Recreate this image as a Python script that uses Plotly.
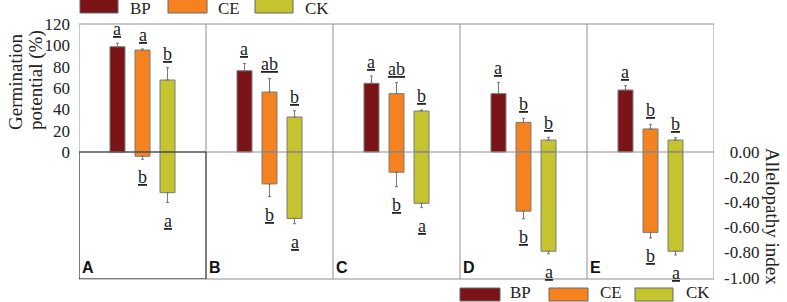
import plotly.graph_objects as go

panels = ["A", "B", "C", "D", "E"]
groups = ["BP", "CE", "CK"]
colors = {"BP": "#7b1416", "CE": "#f5821f", "CK": "#c3c42e"}

# Germination potential (%) and upper error
gp_bp = [98.7, 76.2, 64.4, 54.7, 58.1]
gp_bp_err = [3.3, 6.8, 6.8, 10.6, 4.1]
gp_ce = [95.6, 56.2, 54.7, 27.8, 21.6]
gp_ce_err = [1.0, 12.8, 10.3, 3.8, 4.4]
gp_ck = [67.5, 32.8, 38.4, 11.2, 11.2]
gp_ck_err = [11.5, 5.9, 1.0, 2.6, 2.2]

# Allelopathy index and lower error
ai_ce = [-0.034, -0.254, -0.161, -0.471, -0.640]
ai_ce_err = [0.024, 0.101, 0.115, 0.061, 0.045]
ai_ck = [-0.324, -0.529, -0.408, -0.790, -0.790]
ai_ck_err = [0.078, 0.042, 0.035, 0.020, 0.030]

# significance letters
gp_letters = {"BP": ["a", "a", "a", "a", "a"],
              "CE": ["a", "ab", "ab", "b", "b"],
              "CK": ["b", "b", "b", "b", "b"]}
ai_letters = {"CE": ["b", "b", "b", "b", "b"],
              "CK": ["a", "a", "a", "a", "a"]}

gp_ticks = [0, 20, 40, 60, 80, 100, 120]
ai_ticks = [0.0, -0.2, -0.4, -0.6, -0.8, -1.0]

offsets = {"BP": -0.197, "CE": 0.0, "CK": 0.197}
BAR_W = 0.118
SERIF = "Liberation Serif, Times New Roman, serif"
TXT = "#222222"
GRID = "#8f8f8f"

gp = {"BP": (gp_bp, gp_bp_err), "CE": (gp_ce, gp_ce_err), "CK": (gp_ck, gp_ck_err)}
ai = {"CE": (ai_ce, ai_ce_err), "CK": (ai_ck, ai_ck_err)}

fig = go.Figure()
idx = list(range(len(panels)))
for g in groups:
    vals, err = gp[g]
    fig.add_trace(go.Bar(
        x=[i + offsets[g] for i in idx], y=vals, width=BAR_W, name=g,
        marker=dict(color=colors[g], line=dict(color="#7a7a7a", width=1)),
        error_y=dict(type="data", symmetric=False, array=err, arrayminus=[0] * 5,
                     color="#777777", thickness=1, width=1.5),
        yaxis="y", showlegend=False))
for g in ["CE", "CK"]:
    vals, err = ai[g]
    fig.add_trace(go.Bar(
        x=[i + offsets[g] for i in idx], y=vals, width=BAR_W, name=g,
        marker=dict(color=colors[g], line=dict(color="#7a7a7a", width=1)),
        error_y=dict(type="data", symmetric=False, array=[0] * 5, arrayminus=err,
                     color="#777777", thickness=1, width=1.5),
        yaxis="y2", showlegend=False))

# pixel -> paper helpers
L, R, T, B = 79, 714, 24, 279
def px(x):
    return (x - L) / (R - L)
def py(y):
    return (B - y) / (B - T)

ann = []
for g in groups:
    vals, err = gp[g]
    for i in idx:
        ann.append(dict(x=i + offsets[g], y=vals[i] + err[i], xref="x", yref="y",
                        text="<u>%s</u>" % gp_letters[g][i], showarrow=False,
                        xanchor="center", yanchor="bottom", yshift=2,
                        font=dict(family=SERIF, size=18, color=TXT)))
for g in ["CE", "CK"]:
    vals, err = ai[g]
    for i in idx:
        ann.append(dict(x=i + offsets[g], y=vals[i] - err[i], xref="x", yref="y2",
                        text="<u>%s</u>" % ai_letters[g][i], showarrow=False,
                        xanchor="center", yanchor="top", yshift=-6,
                        font=dict(family=SERIF, size=18, color=TXT)))
for i, p in enumerate(panels):
    ann.append(dict(x=i - 0.5, y=0, xref="x", yref="paper", text="<b>%s</b>" % p,
                    showarrow=False, xanchor="left", yanchor="bottom", xshift=1, yshift=1,
                    font=dict(family="Liberation Sans, Arial, sans-serif", size=16, color="#111")))

# axis titles
ann.append(dict(x=px(15), y=py(82), xref="paper", yref="paper", text="Germination", showarrow=False,
                xanchor="center", yanchor="middle", textangle=-90,
                font=dict(family=SERIF, size=19, color=TXT)))
ann.append(dict(x=px(36), y=py(80), xref="paper", yref="paper", text="potential (%)", showarrow=False,
                xanchor="center", yanchor="middle", textangle=-90,
                font=dict(family=SERIF, size=19, color=TXT)))
ann.append(dict(x=px(773), y=py(216), xref="paper", yref="paper", text="Allelopathy index", showarrow=False,
                xanchor="center", yanchor="middle", textangle=90,
                font=dict(family=SERIF, size=19, color=TXT)))

shapes = []
# frame / panel dividers
for xv in [-0.5, 0.5, 1.5, 2.5, 3.5, 4.5]:
    shapes.append(dict(type="line", xref="x", yref="paper", x0=xv, x1=xv, y0=0, y1=1,
                       line=dict(color=GRID, width=1)))
for yv in [0, 1]:
    shapes.append(dict(type="line", xref="paper", yref="paper", x0=0, x1=1, y0=yv, y1=yv,
                       line=dict(color=GRID, width=1)))
shapes.append(dict(type="line", xref="paper", yref="y", x0=0, x1=1, y0=0, y1=0,
                   line=dict(color=GRID, width=1)))
# dark box for panel A lower part
shapes.append(dict(type="rect", xref="x", yref="y", x0=-0.5, x1=0.5, y0=-119.06, y1=0,
                   line=dict(color="#333333", width=1)))

# legends (top and bottom)
legend_sets = [
    dict(boxes=[(80, 118), (168, 207), (255, 293)], texts=[130, 218, 305], y0=-2, y1=13, ty=9),
    dict(boxes=[(460, 500), (549, 588), (635, 673)], texts=[510, 600, 686], y0=288, y1=301, ty=292),
]
for ls in legend_sets:
    for (x0, x1), tx, g in zip(ls["boxes"], ls["texts"], groups):
        shapes.append(dict(type="rect", xref="paper", yref="paper", x0=px(x0), x1=px(x1),
                           y0=py(ls["y1"]), y1=py(ls["y0"]), fillcolor=colors[g],
                           line=dict(color="#666666", width=1)))
        ann.append(dict(x=px(tx), y=py(ls["ty"]), xref="paper", yref="paper", text=g,
                        showarrow=False, xanchor="left", yanchor="middle", xshift=-2,
                        font=dict(family=SERIF, size=17, color=TXT)))

fig.update_layout(
    width=787, height=302, margin=dict(l=L, r=787 - R, t=T, b=302 - B),
    paper_bgcolor="white", plot_bgcolor="white", barmode="overlay",
    xaxis=dict(range=[-0.5, 4.5], showticklabels=False, showgrid=False, zeroline=False,
               showline=False, ticks=""),
    yaxis=dict(range=[-119.06, 120], tickvals=gp_ticks, ticktext=[str(v) for v in gp_ticks],
               showgrid=False, zeroline=False, showline=False, ticks="",
               ticklabelstandoff=8, tickfont=dict(family=SERIF, size=17, color=TXT)),
    yaxis2=dict(range=[-1.011, 1.019], overlaying="y", side="right", tickvals=ai_ticks,
                ticktext=["\u2004%.2f" % v if v == 0 else "%.2f" % v for v in ai_ticks],
                showgrid=False, zeroline=False, showline=False, ticks="",
                ticklabelstandoff=9, tickfont=dict(family=SERIF, size=17, color=TXT)),
    shapes=shapes, annotations=ann, showlegend=False,
)

fig.write_html("out.html", config={"displayModeBar": False},
               post_script="document.body.style.margin='0';")
